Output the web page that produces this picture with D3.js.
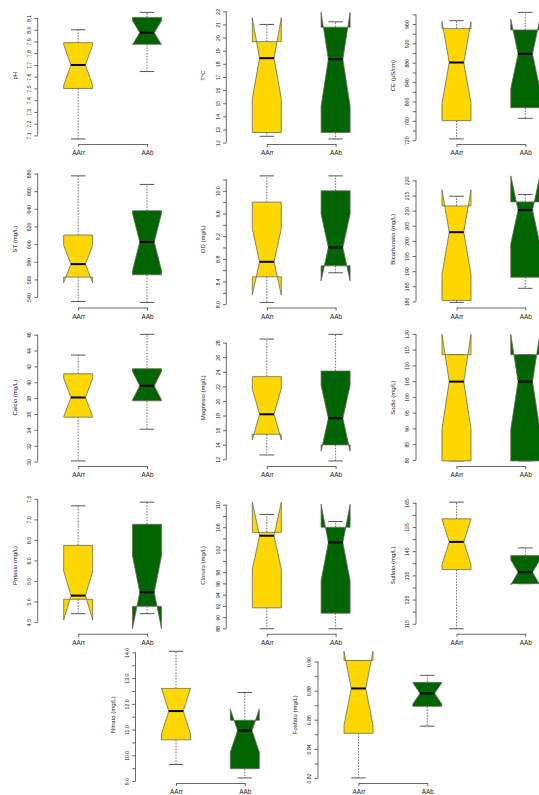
<!DOCTYPE html>
<html>
<head>
<meta charset="utf-8">
<script src="https://cdn.jsdelivr.net/npm/d3@7/dist/d3.min.js"></script>
<style>
  body { margin: 0; background: #fff; }
  svg { display: block; font-family: "Liberation Sans", Arial, sans-serif; }
</style>
</head>
<body>
<script>
// Groups compared in every panel
const groups = ["AArr", "AAb"];
const groupFills = ["#FFD700", "#006400"];

// Variable shown in each panel (y-axis title)
const variables = ["pH", "T°C", "CE (µS/cm)", "ST (mg/L)", "OD (mg/L)", "Bicarbonato (mg/L)",
  "Calcio (mg/L)", "Magnesio (mg/L)", "Sodio (mg/L)", "Potasio (mg/L)", "Cloruro (mg/L)",
  "Sulfato (mg/L)", "Nitrato (mg/L)", "Fosfato (mg/L)"];

// Box statistics per variable: [lower whisker, Q1, median, Q3, upper whisker]
const aarrStats = [
  [7.07, 7.50, 7.70, 7.89, 8.00],
  [12.48, 12.77, 18.43, 19.69, 21.00],
  [722.7, 760.5, 880.5, 950.4, 966.9],
  [535.0, 562.6, 577.3, 610.3, 677.3],
  [8.03, 8.482, 8.747, 9.80, 10.264],
  [179.67, 180.33, 202.89, 211.56, 214.78],
  [30.08, 35.6, 38.08, 41.07, 43.43],
  [12.59, 15.43, 18.17, 23.34, 28.5],
  [79.68, 79.68, 104.85, 113.39, 113.39],
  [4.704, 5.054, 5.144, 6.367, 7.329],
  [87.94, 91.66, 104.48, 105.08, 108.26],
  [112.93, 137.38, 148.85, 158.38, 165.28],
  [9.64, 10.6, 11.72, 12.6, 14.04],
  [0.820, 0.8507, 0.8815, 0.9007, 0.9007]
];
const aabStats = [
  [7.644, 7.876, 7.975, 8.105, 8.148],
  [12.28, 12.77, 18.35, 20.79, 21.20],
  [765.3, 787.2, 898.3, 947.7, 984.0],
  [533.9, 565.2, 602.4, 637.8, 667.6],
  [8.553, 8.676, 9.0, 10.0, 10.264],
  [184.33, 188.0, 210.2, 212.9, 215.33],
  [34.08, 37.66, 39.56, 41.71, 46.04],
  [11.77, 13.97, 17.62, 24.11, 29.14],
  [79.68, 79.68, 104.85, 113.39, 113.39],
  [4.704, 4.883, 5.226, 6.88, 7.419],
  [87.94, 90.7, 103.29, 105.98, 107.0],
  [131.58, 131.58, 136.27, 143.18, 146.36],
  [9.12, 9.48, 10.96, 11.36, 12.44],
  [0.8556, 0.8692, 0.8781, 0.8857, 0.8905]
];

// Notch limits (median confidence interval) per variable: [low, high]
const aarrNotch = [
  [7.526, 7.874], [15.35, 21.51], [796, 965], [556.1, 598.5], [8.16, 9.334],
  [188.9, 216.9], [35.65, 40.51], [14.65, 21.69], [89.85, 119.85], [4.55, 5.74],
  [98.51, 110.45], [139.5, 158.2], [10.83, 12.61], [0.856, 0.907]
];
const aabNotch = [
  [7.873, 8.077], [14.78, 21.92], [826.9, 969.7], [570.1, 634.7], [8.41, 9.59],
  [199.1, 221.5], [37.76, 41.36], [13.11, 22.13], [89.85, 119.85], [4.337, 6.115],
  [96.49, 110.09], [131.1, 141.4], [10.12, 11.8], [0.8708, 0.8854]
];

// Y-axis tick positions and the labels printed beside them ("" = unlabelled tick)
const yTickValues = [
  [7.1, 7.2, 7.3, 7.4, 7.5, 7.6, 7.7, 7.8, 7.9, 8.0, 8.1],
  [12, 13, 14, 15, 16, 17, 18, 19, 20, 21, 22],
  [720, 740, 760, 780, 800, 820, 840, 860, 880, 900, 920, 940, 960, 980],
  [540, 560, 580, 600, 620, 640, 660, 680],
  [8.0, 8.2, 8.4, 8.6, 8.8, 9.0, 9.2, 9.4, 9.6, 9.8, 10.0, 10.2],
  [180, 185, 190, 195, 200, 205, 210, 215, 220],
  [30, 32, 34, 36, 38, 40, 42, 44, 46],
  [12, 14, 16, 18, 20, 22, 24, 26, 28],
  [80, 85, 90, 95, 100, 105, 110, 115, 120],
  [4.5, 5.0, 5.5, 6.0, 6.5, 7.0, 7.5],
  [88, 90, 92, 94, 96, 98, 100, 102, 104, 106, 108, 110],
  [115, 120, 125, 130, 135, 140, 145, 150, 155, 160, 165],
  [9.0, 9.5, 10.0, 10.5, 11.0, 11.5, 12.0, 12.5, 13.0, 13.5, 14.0],
  [0.82, 0.83, 0.84, 0.85, 0.86, 0.87, 0.88, 0.89, 0.90]
];
const yTickLabels = [
  ["7.1", "7.2", "7.3", "7.4", "7.5", "7.6", "7.7", "7.8", "7.9", "8.0", "8.1"],
  ["12", "13", "14", "15", "16", "17", "18", "19", "20", "21", "22"],
  ["720", "", "760", "", "800", "", "840", "", "880", "", "920", "", "960", ""],
  ["540", "560", "580", "600", "620", "640", "660", "680"],
  ["8.0", "", "8.4", "", "8.8", "", "9.2", "", "9.6", "", "10.0", ""],
  ["180", "185", "190", "195", "200", "205", "210", "215", "220"],
  ["30", "32", "34", "36", "38", "40", "42", "44", "46"],
  ["12", "14", "16", "18", "20", "22", "24", "26", "28"],
  ["80", "85", "90", "95", "100", "105", "110", "115", "120"],
  ["4.5", "5.0", "5.5", "6.0", "6.5", "7.0", "7.5"],
  ["88", "90", "92", "94", "96", "98", "", "102", "", "106", "", "110"],
  ["115", "", "125", "", "135", "", "145", "", "155", "", "165"],
  ["9.0", "", "10.0", "", "11.0", "", "12.0", "", "13.0", "", "14.0"],
  ["0.82", "", "0.84", "", "0.86", "", "0.88", "", "0.90"]
];

// ---- layout ----
const W = 539, H = 795;
const colFirstBox = [78.2, 266.8, 456.5];     // x of the first box in each grid column
const rowBottom = [144, 307.5, 466, 633.8];    // bottom edge of the plotting region per row
const lastRowFirstBox = [176, 358.5];
const lastRowBottom = 783;
const boxGap = 68.8;        // distance between the two boxes
const plotH = 136.7;        // height of each plotting region
const halfBox = 14.5;       // half of box width (px)
const notchFrac = 0.5;      // median waist relative to box width
const stapleFrac = 0.5;
const axisInset = 40.5;     // y axis sits this far left of the first box

const svg = d3.select("body").append("svg")
  .attr("width", W).attr("height", H)
  .attr("viewBox", `0 0 ${W} ${H}`);

variables.forEach((label, i) => {
  let c1, bottom;
  if (i < 12) {
    c1 = colFirstBox[i % 3];
    bottom = rowBottom[Math.floor(i / 3)];
  } else {
    c1 = lastRowFirstBox[i - 12];
    bottom = lastRowBottom;
  }
  const axisX = c1 - axisInset;

  const statsByGroup = [aarrStats[i], aabStats[i]];
  const notchByGroup = [aarrNotch[i], aabNotch[i]];
  const all = statsByGroup.flat().concat(notchByGroup.flat());
  const lo = d3.min(all), hi = d3.max(all);
  const pad = (hi - lo) * 0.04;

  const y = d3.scaleLinear().domain([lo - pad, hi + pad]).range([bottom, bottom - plotH]);
  const x = d3.scaleLinear().domain([1, 2]).range([c1, c1 + boxGap]);

  const g = svg.append("g");

  // boxes: whiskers, staples, notched body, median
  statsByGroup.forEach((s, k) => {
    const [wlo, q1, med, q3, whi] = s;
    const [cLo, cHi] = notchByGroup[k];
    const cx = x(k + 1);
    const xs = [-1, -1, -notchFrac, -1, -1, 1, 1, notchFrac, 1, 1].map(v => cx + v * halfBox);
    const ys = [q1, cLo, med, cHi, q3, q3, cHi, med, cLo, q1].map(v => y(v));
    const pts = xs.map((v, j) => [v, ys[j]]);

    g.append("line").attr("x1", cx).attr("x2", cx).attr("y1", y(q1)).attr("y2", y(wlo))
      .attr("stroke", "#555").attr("stroke-width", 0.8).attr("stroke-dasharray", "1.6,1.3");
    g.append("line").attr("x1", cx).attr("x2", cx).attr("y1", y(q3)).attr("y2", y(whi))
      .attr("stroke", "#555").attr("stroke-width", 0.8).attr("stroke-dasharray", "1.6,1.3");
    [wlo, whi].forEach(v => {
      g.append("line")
        .attr("x1", cx - halfBox * stapleFrac).attr("x2", cx + halfBox * stapleFrac)
        .attr("y1", y(v)).attr("y2", y(v))
        .attr("stroke", "#444").attr("stroke-width", 0.9);
    });

    g.append("path")
      .attr("d", d3.line()(pts) + "Z")
      .attr("fill", groupFills[k])
      .attr("stroke", "#6b6b5a").attr("stroke-width", 0.8)
      .attr("stroke-linejoin", "round");

    g.append("line")
      .attr("x1", cx - halfBox * notchFrac).attr("x2", cx + halfBox * notchFrac)
      .attr("y1", y(med)).attr("y2", y(med))
      .attr("stroke", "#000").attr("stroke-width", 2);
  });

  // y axis, line spanning first to last tick, labels parallel to the axis
  const ticks = yTickValues[i];
  const labs = yTickLabels[i];
  const yAxis = d3.axisLeft(y).tickValues(ticks).tickSize(3.3).tickSizeOuter(0)
    .tickPadding(0)
    .tickFormat((d, j) => labs[j]);
  const ya = g.append("g").attr("transform", `translate(${axisX},0)`).call(yAxis);
  ya.select(".domain").attr("d", `M0,${y(ticks[0])}V${y(ticks[ticks.length - 1])}`);
  ya.selectAll("path, line").attr("stroke", "#444").attr("stroke-width", 0.8);
  ya.selectAll("text")
    .attr("x", null)
    .attr("transform", "translate(-8.5,0) rotate(-90)")
    .attr("text-anchor", "middle")
    .attr("dy", "0.35em")
    .attr("font-size", 5.2).attr("fill", "#222");

  // x axis between the two groups
  const xAxis = d3.axisBottom(x).tickValues([1, 2]).tickSize(3).tickSizeOuter(0)
    .tickPadding(3.5).tickFormat(d => groups[d - 1]);
  const xa = g.append("g").attr("transform", `translate(0,${bottom})`).call(xAxis);
  xa.selectAll("path, line").attr("stroke", "#444").attr("stroke-width", 0.8);
  xa.selectAll("text").attr("font-size", 6.4).attr("fill", "#222");

  // axis title
  g.append("text")
    .attr("transform", `translate(${axisX - 21},${bottom - plotH / 2}) rotate(-90)`)
    .attr("text-anchor", "middle")
    .attr("font-size", 6).attr("fill", "#222")
    .text(label);
});
</script>
</body>
</html>
